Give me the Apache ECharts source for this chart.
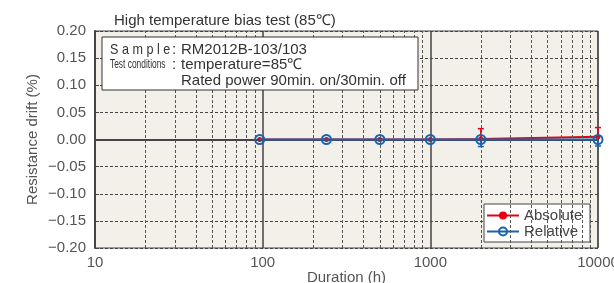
<!DOCTYPE html>
<html>
<head>
<meta charset="utf-8">
<script src="https://cdn.jsdelivr.net/npm/echarts@6/dist/echarts.min.js"></script>
<style>
html, body { margin: 0; padding: 0; background: #fff; }
#chart { width: 614px; height: 283px; }
</style>
</head>
<body>
<div id="chart"></div>
<script>
// data
var durations = [96, 240, 500, 1000, 2000, 10000];
var absolute = [0, 0, 0, 0, 0.001, 0.005];
var relative = [0, 0, 0, 0, 0, 0];
var absErrTop = [0, 0, 0, 0, 0.02, 0.022];
var relErrBottom = [0, 0, 0, 0, -0.013, -0.012];
var minorGrid = [20, 30, 40, 50, 60, 70, 80, 90, 200, 300, 400, 500, 600, 700, 800, 900,
                 2000, 3000, 4000, 5000, 6000, 7000, 8000, 9000];
var xTicks = [10, 100, 1000, 10000];

var red = '#e60012';
var blue = '#1b62ad';
var font = '"Liberation Sans", Arial, sans-serif';

function pairs(xs, ys) {
    return xs.map(function (x, i) { return [x, ys[i]]; });
}

// error bar drawn from point value to bar end, with a small cap
function errorBar(color) {
    return function (params, api) {
        var p0 = api.coord([api.value(0), api.value(1)]);
        var p1 = api.coord([api.value(0), api.value(2)]);
        if (Math.abs(p1[1] - p0[1]) < 1) return null;
        return {
            type: 'group',
            children: [
                { type: 'line', shape: { x1: p0[0], y1: p0[1], x2: p1[0], y2: p1[1] }, style: { stroke: color, lineWidth: 1.5 } },
                { type: 'line', shape: { x1: p1[0] - 3, y1: p1[1], x2: p1[0] + 3, y2: p1[1] }, style: { stroke: color, lineWidth: 1.5 } }
            ]
        };
    };
}

function label(x, y, text, size, sx) {
    return {
        type: 'text', x: x, y: y, z: 11, scaleX: sx || 1,
        style: { text: text, font: size + 'px ' + font, fill: '#333' }
    };
}

var chartDom = document.getElementById('chart');
var myChart = echarts.init(chartDom);
var option = {
    animation: false,
    textStyle: { fontFamily: font },
    title: {
        text: 'High temperature bias test (85℃)',
        left: 109,
        top: 8,
        textStyle: { fontSize: 15, fontWeight: 'normal', color: '#333', fontFamily: font }
    },
    grid: {
        left: 95, right: 16, top: 31, bottom: 35,
        outerBoundsMode: 'none',
        containLabel: false,
        show: true,
        backgroundColor: '#f3f0e9',
        borderColor: '#444',
        borderWidth: 1
    },
    legend: {
        orient: 'vertical',
        left: 486,
        top: 208,
        itemWidth: 32,
        itemHeight: 10,
        itemGap: 1,
        padding: 0,
        textStyle: { fontSize: 15, color: '#444', fontFamily: font },
        data: ['Absolute', 'Relative']
    },
    xAxis: {
        type: 'log',
        logBase: 10,
        min: 10,
        max: 10000,
        name: 'Duration (h)',
        nameLocation: 'middle',
        nameGap: 22,
        nameMoveOverlap: false,
        nameTextStyle: { fontSize: 15, color: '#555' },
        axisLine: { lineStyle: { color: '#444', width: 2 } },
        axisTick: { show: false },
        axisLabel: {
            fontSize: 15, color: '#555', margin: 7,
            formatter: function (v) { return xTicks.indexOf(v) >= 0 ? String(v) : ''; }
        },
        splitLine: { show: true, lineStyle: { color: '#444', width: 1.5 } }
    },
    yAxis: {
        type: 'value',
        min: -0.2,
        max: 0.2,
        interval: 0.05,
        name: 'Resistance drift (%)',
        nameLocation: 'middle',
        nameGap: 55,
        nameMoveOverlap: false,
        nameTextStyle: { fontSize: 15, color: '#555' },
        axisLine: { lineStyle: { color: '#444', width: 2 } },
        axisTick: { show: true, inside: true, length: 4, lineStyle: { color: '#444' } },
        axisLabel: {
            fontSize: 15, color: '#555', margin: 9,
            formatter: function (v) { return v.toFixed(2).replace('-', '−'); }
        },
        splitLine: { show: true, lineStyle: { color: '#444', width: 1, type: [3, 2] } }
    },
    series: [
        {
            name: 'grid',
            type: 'line',
            data: [],
            silent: true,
            markLine: {
                silent: true,
                symbol: 'none',
                label: { show: false },
                lineStyle: { color: '#555', width: 1, type: [3, 2] },
                data: minorGrid.map(function (v) { return { xAxis: v }; })
                    .concat([{ yAxis: 0, lineStyle: { type: 'solid', color: '#444', width: 1.5 } }])
            }
        },
        {
            name: 'Absolute err',
            type: 'custom',
            renderItem: errorBar(red),
            data: durations.map(function (d, i) { return [d, absolute[i], absErrTop[i]]; }),
            z: 3
        },
        {
            name: 'Relative err',
            type: 'custom',
            renderItem: errorBar(blue),
            data: durations.map(function (d, i) { return [d, relative[i], relErrBottom[i]]; }),
            z: 3
        },
        {
            name: 'Absolute',
            type: 'line',
            data: pairs(durations, absolute),
            color: red,
            symbol: 'circle',
            symbolSize: 5,
            lineStyle: { color: red, width: 2 },
            itemStyle: { color: red },
            z: 4
        },
        {
            name: 'Relative',
            type: 'line',
            data: pairs(durations, relative),
            color: blue,
            symbol: 'circle',
            symbolSize: 9,
            lineStyle: { color: blue, width: 2 },
            itemStyle: { color: 'rgba(255,255,255,0)', borderColor: blue, borderWidth: 2 },
            z: 5
        }
    ],
    graphic: [
        {
            type: 'rect',
            shape: { x: 102, y: 37, width: 316, height: 53 },
            style: { fill: '#fff', stroke: '#333', lineWidth: 1 },
            z: 10
        },
        {
            type: 'rect',
            shape: { x: 484, y: 204, width: 106, height: 38 },
            style: { fill: '#fff', stroke: '#444', lineWidth: 1 },
            z: 1
        },
        label(110, 42, 'S a m p l e', 15, 0.84),
        label(172, 42, ':', 15),
        label(181, 42, 'RM2012B-103/103', 15),
        label(110, 59, 'Test conditions', 12, 0.7),
        label(172, 57, ':', 15),
        label(181, 57, 'temperature=85℃', 15),
        label(181, 73, 'Rated power 90min. on/30min. off', 15)
    ]
};
option && myChart.setOption(option);
</script>
</body>
</html>
